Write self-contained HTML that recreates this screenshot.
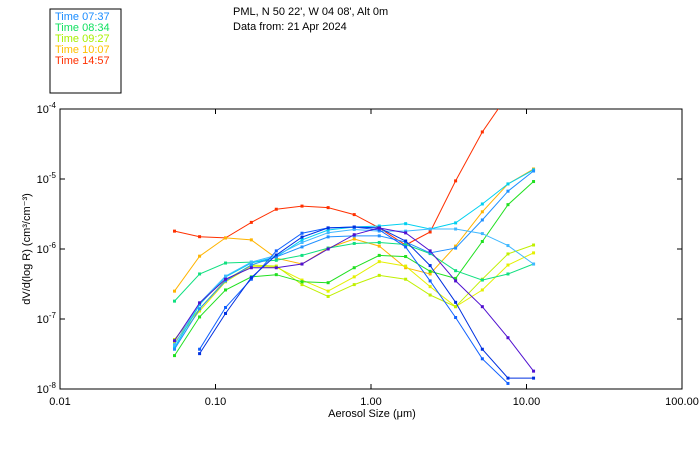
<!DOCTYPE html>
<html><head><meta charset="utf-8"><style>
html,body{margin:0;padding:0;background:#fff;}
svg text{font-family:"Liberation Sans",sans-serif;}
</style></head><body>
<svg id="chart" width="700" height="450" xmlns="http://www.w3.org/2000/svg">
<defs><clipPath id="pc"><rect x="60" y="109" width="622" height="280"/></clipPath></defs>
<rect x="50" y="9" width="71" height="84" fill="none" stroke="#000"/>
<g font-size="11">
<text x="55" y="20" fill="#1a8cff">Time 07:37</text>
<text x="55" y="31" fill="#10e060">Time 08:34</text>
<text x="55" y="42" fill="#a8f000">Time 09:27</text>
<text x="55" y="53" fill="#ffc000">Time 10:07</text>
<text x="55" y="64" fill="#ff3000">Time 14:57</text>
</g>
<text x="233" y="15" font-size="11">PML, N 50 22', W 04 08', Alt 0m</text>
<text x="233" y="30" font-size="11">Data from: 21 Apr 2024</text>
<rect x="60" y="109" width="622" height="280" fill="none" stroke="#000"/>
<g id="axes"></g>
<g id="series" clip-path="url(#pc)"></g>
<text x="372" y="417" font-size="11" text-anchor="middle">Aerosol Size (μm)</text>
<text transform="translate(30,249) rotate(-90)" font-size="11" text-anchor="middle">dV/d(log R) (cm³/cm⁻³)</text>
</svg>
<script>
const sizes=[0.0545,0.079,0.116,0.17,0.246,0.36,0.53,0.78,1.13,1.67,2.4,3.5,5.2,7.6,11.1];
const xTicks=[0.01,0.1,1,10,100];
const xTickLabels=["0.01","0.10","1.00","10.00","100.00"];
const yTicks=[-4,-5,-6,-7,-8];
const seriesColors=["#ff3000","#ffb400","#e4f000","#c0f000","#20e020","#10e080","#00d0f0","#2090ff","#40b8ff","#1060ff","#0030e0","#5010d0"];
const sRed=[1.8e-6,1.5e-6,1.44e-6,2.4e-6,3.7e-6,4.1e-6,3.9e-6,3.1e-6,2.0e-6,1.14e-6,1.75e-6,9.4e-6,4.7e-5,1.6e-4,null];
const sOrange=[2.5e-7,7.9e-7,1.44e-6,1.35e-6,7.4e-7,6.1e-7,1.03e-6,1.39e-6,1.1e-6,5.4e-7,4.4e-7,1.1e-6,3.4e-6,8.5e-6,1.39e-5];
const sYellowA=[4.6e-8,1.3e-7,3.4e-7,5.7e-7,5.5e-7,3.6e-7,2.5e-7,4.0e-7,6.6e-7,5.7e-7,2.9e-7,1.5e-7,2.6e-7,5.9e-7,8.8e-7];
const sYellowB=[5.1e-8,1.4e-7,3.6e-7,5.9e-7,5.7e-7,3.1e-7,2.1e-7,3.1e-7,4.2e-7,3.7e-7,2.2e-7,1.5e-7,3.7e-7,8.5e-7,1.14e-6];
const sGreen=[3.0e-8,1.07e-7,2.6e-7,4.0e-7,4.3e-7,3.4e-7,3.3e-7,5.4e-7,8.1e-7,7.8e-7,4.8e-7,3.8e-7,1.28e-6,4.3e-6,9.2e-6];
const sSpring=[1.8e-7,4.4e-7,6.3e-7,6.5e-7,6.9e-7,8.1e-7,1.03e-6,1.2e-6,1.24e-6,1.16e-6,8.6e-7,4.9e-7,3.6e-7,4.4e-7,6.1e-7];
const sCyan=[3.9e-8,1.6e-7,4.0e-7,6.3e-7,7.7e-7,1.35e-6,1.87e-6,2.06e-6,2.13e-6,2.3e-6,1.93e-6,2.36e-6,4.4e-6,8.5e-6,1.35e-5];
const sSky=[3.7e-8,1.4e-7,3.5e-7,5.9e-7,7.7e-7,1.07e-6,1.49e-6,1.54e-6,1.54e-6,1.26e-6,8.8e-7,1.03e-6,2.6e-6,6.7e-6,1.3e-5];
const sLight=[4.3e-8,1.7e-7,4.1e-7,6.5e-7,8.1e-7,1.24e-6,1.71e-6,1.9e-6,1.8e-6,1.8e-6,1.93e-6,1.93e-6,1.66e-6,1.12e-6,6.1e-7];
const sBlue1=[null,3.7e-8,1.46e-7,3.7e-7,9.4e-7,1.68e-6,2.0e-6,2.06e-6,1.87e-6,1.07e-6,3.5e-7,1.05e-7,2.7e-8,1.2e-8,null];
const sBlue2=[null,3.2e-8,1.2e-7,3.9e-7,8.2e-7,1.48e-6,2.0e-6,2.06e-6,2.0e-6,1.3e-6,5.8e-7,1.73e-7,3.7e-8,1.43e-8,1.43e-8];
const sPurple=[4.9e-8,1.7e-7,3.7e-7,5.4e-7,5.4e-7,6.1e-7,1.0e-6,1.6e-6,2.0e-6,1.7e-6,9.4e-7,3.5e-7,1.5e-7,5.4e-8,1.8e-8];
const allSeries=[sRed,sOrange,sYellowA,sYellowB,sGreen,sSpring,sCyan,sSky,sLight,sBlue1,sBlue2,sPurple];

const NS="http://www.w3.org/2000/svg";
const X0=60,X1=682,Y0=389,Y1=109;
function xs(v){return X0+(Math.log10(v)+2)/4*(X1-X0);}
function ys(v){return Y0-(Math.log10(v)+8)/4*(Y0-Y1);}
function mk(t,a){const e=document.createElementNS(NS,t);for(const k in a)e.setAttribute(k,a[k]);return e;}
const ax=document.getElementById('axes');
xTicks.forEach((t,i)=>{
  const x=xs(t);
  if(i>0&&i<xTicks.length-1){
    const a=mk('line',{x1:x,x2:x,y1:Y0,y2:Y0-5,stroke:'#000'});
    
    
    ax.appendChild(a);
    const b=mk('line',{x1:x,x2:x,y1:Y1,y2:Y1+5,stroke:'#000'});
    
    
    ax.appendChild(b);
  }
  const tx=mk('text',{x:x,y:Y0+16,'font-size':11,'text-anchor':'middle'});
  tx.textContent=xTickLabels[i];
  
  
  ax.appendChild(tx);
});
yTicks.forEach((e,i)=>{
  const y=ys(Math.pow(10,e));
  if(i>0&&i<yTicks.length-1){
    const a=mk('line',{x1:X0,x2:X0+5,y1:y,y2:y,stroke:'#000'});
    
    
    ax.appendChild(a);
    const b=mk('line',{x1:X1,x2:X1-5,y1:y,y2:y,stroke:'#000'});
    
    
    ax.appendChild(b);
  }
  const tx=mk('text',{x:X0-4,y:y+4,'font-size':11,'text-anchor':'end'});
  tx.innerHTML='10<tspan dy="-5" font-size="8">'+e+'</tspan>';
  
  
  ax.appendChild(tx);
});
const sg=document.getElementById('series');
allSeries.forEach((s,si)=>{
  const g=mk('g',{});
  
  
  let d='';let started=false;
  s.forEach((v,i)=>{
    if(v==null){started=false;return;}
    d+=(started?'L':'M')+xs(sizes[i]).toFixed(1)+','+ys(v).toFixed(1);started=true;
  });
  const p=mk('path',{d:d,fill:'none',stroke:seriesColors[si],'stroke-width':1});
  
  
  g.appendChild(p);
  s.forEach((v,i)=>{
    if(v==null)return;
    const r=mk('rect',{x:xs(sizes[i])-1.5,y:ys(v)-1.5,width:3,height:3,fill:seriesColors[si]});
    
    
    g.appendChild(r);
  });
  sg.appendChild(g);
});
</script>
</body></html>
